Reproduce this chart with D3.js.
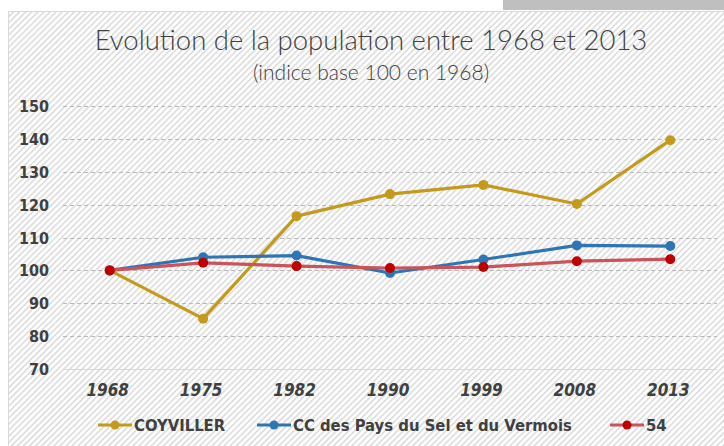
<!DOCTYPE html>
<html lang="fr">
<head>
<meta charset="UTF-8">
<script src="https://d3js.org/d3.v7.min.js"></script>
<style>
body { margin: 0; background: #fff; }
.lbl { font-family: "DejaVu Sans Condensed", "Liberation Sans Narrow", sans-serif; font-weight: bold; fill: #404040; }
</style>
</head>
<body>
<div id="chart"></div>
<script>
const years = ["1968", "1975", "1982", "1990", "1999", "2008", "2013"];
const coyviller = [100, 85.3, 116.5, 123.2, 126.0, 120.2, 139.6];
const ccPays = [100, 104.0, 104.5, 99.2, 103.3, 107.6, 107.4];
const dept54 = [100, 102.3, 101.3, 100.7, 101.0, 102.8, 103.4];
const yTicks = [70, 80, 90, 100, 110, 120, 130, 140, 150];
const seriesNames = ["COYVILLER", "CC des Pays du Sel et du Vermois", "54"];

const width = 724, height = 446;

const series = [
  {name: seriesNames[0], values: coyviller, line: "#C39A1C", dot: "#C39A1C"},
  {name: seriesNames[1], values: ccPays, line: "#2E75B6", dot: "#2E75B6"},
  {name: seriesNames[2], values: dept54, line: "#C9545A", dot: "#C00000"}
];

const svg = d3.select("#chart").append("svg")
  .attr("width", width)
  .attr("height", height);

// diagonal stripes background
const defs = svg.append("defs");
const pat = defs.append("pattern")
  .attr("id", "stripes")
  .attr("patternUnits", "userSpaceOnUse")
  .attr("width", 4.3)
  .attr("height", 4.3)
  .attr("patternTransform", "rotate(45)");
pat.append("rect").attr("width", 4.3).attr("height", 4.3).attr("fill", "#ffffff");
pat.append("rect").attr("width", 1.5).attr("height", 4.3).attr("fill", "#dadada");

// grey tab at top right
svg.append("rect")
  .attr("x", 503).attr("y", 0)
  .attr("width", width - 503).attr("height", 10)
  .attr("fill", "#bfbfbf");

svg.append("rect")
  .attr("x", 8.5).attr("y", 11.5)
  .attr("width", width).attr("height", height)
  .attr("fill", "url(#stripes)")
  .attr("stroke", "#d9d9d9");

// titles
svg.append("text")
  .attr("x", 371).attr("y", 50)
  .attr("text-anchor", "middle")
  .style("font-family", "Lato, 'Open Sans', sans-serif")
  .style("font-weight", 300)
  .style("font-size", "27.5px")
  .attr("fill", "#404040")
  .text("Evolution de la population entre 1968 et 2013");

svg.append("text")
  .attr("x", 371).attr("y", 80)
  .attr("text-anchor", "middle")
  .style("font-family", "Lato, 'Open Sans', sans-serif")
  .style("font-weight", 300)
  .style("font-size", "21px")
  .attr("fill", "#404040")
  .text("(indice base 100 en 1968)");

const x = d3.scalePoint().domain(years).range([63, 717]).padding(0.5);
const y = d3.scaleLinear().domain([70, 150]).range([369, 106]);

// grid
svg.append("g")
  .selectAll("line")
  .data(yTicks)
  .join("line")
  .attr("x1", 63).attr("x2", 717)
  .attr("y1", d => Math.round(y(d)) + 0.5)
  .attr("y2", d => Math.round(y(d)) + 0.5)
  .attr("stroke", d => d === 70 ? "#d9d9d9" : "#b8b8b8")
  .attr("stroke-width", 1)
  .attr("stroke-dasharray", d => d === 70 ? null : "4,3");

// y labels
svg.append("g")
  .selectAll("text")
  .data(yTicks)
  .join("text")
  .attr("class", "lbl")
  .attr("x", 49)
  .attr("y", d => y(d) + 6)
  .attr("text-anchor", "end")
  .style("font-size", "16px")
  .text(d => d);

// x labels
svg.append("g")
  .selectAll("text")
  .data(years)
  .join("text")
  .attr("class", "lbl")
  .attr("x", d => x(d) - 2)
  .attr("y", 396)
  .attr("text-anchor", "middle")
  .style("font-size", "17px")
  .style("font-style", "italic")
  .text(d => d);

const line = d3.line()
  .x((d, i) => x(years[i]))
  .y(d => y(d));

series.forEach(s => {
  const g = svg.append("g");
  g.append("path")
    .attr("d", line(s.values))
    .attr("fill", "none")
    .attr("stroke", s.line)
    .attr("stroke-width", 3.2)
    .attr("stroke-linejoin", "round");
  g.selectAll("circle")
    .data(s.values)
    .join("circle")
    .attr("cx", (d, i) => x(years[i]))
    .attr("cy", d => y(d))
    .attr("r", 5)
    .attr("fill", s.dot);
});

// legend
const legendX = [98, 257, 610];
const leg = svg.append("g");
series.forEach((s, i) => {
  const lx = legendX[i];
  leg.append("line")
    .attr("x1", lx).attr("x2", lx + 34)
    .attr("y1", 425).attr("y2", 425)
    .attr("stroke", s.line)
    .attr("stroke-width", 3.2);
  leg.append("circle")
    .attr("cx", lx + 17).attr("cy", 425)
    .attr("r", 4.5)
    .attr("fill", s.dot);
  leg.append("text")
    .attr("class", "lbl")
    .attr("x", lx + 36)
    .attr("y", 431)
    .style("font-size", "16.5px")
    .text(s.name);
});
</script>
</body>
</html>
